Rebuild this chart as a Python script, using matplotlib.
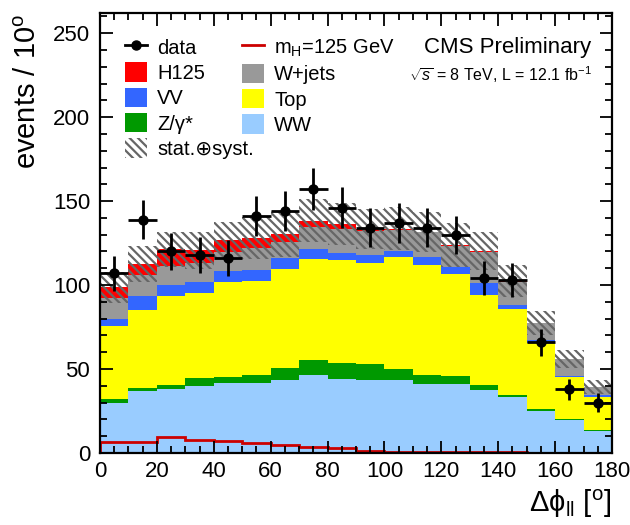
import numpy as np
import matplotlib
matplotlib.use("Agg")
import matplotlib.pyplot as plt
from matplotlib.patches import Patch
from matplotlib.lines import Line2D
from matplotlib.ticker import MultipleLocator

plt.rcParams["font.family"] = ["Liberation Sans", "DejaVu Sans"]
plt.rcParams["mathtext.fontset"] = "custom"
plt.rcParams["mathtext.rm"] = "Liberation Sans"
plt.rcParams["mathtext.it"] = "Liberation Sans:italic"
plt.rcParams["mathtext.bf"] = "Liberation Sans:bold"
plt.rcParams["hatch.linewidth"] = 1.6
plt.rcParams["hatch.color"] = "#666666"

# delta phi_ll bins, 10 degrees each
edges = np.arange(0, 181, 10)

# background and signal yields per bin (stack order: bottom -> top)
ww = [29.6, 37.0, 38.3, 39.8, 41.4, 41.5, 43.2, 46.4, 44.0, 43.6, 43.6, 41.0, 41.0, 37.3, 33.5, 25.2, 19.4, 13.0]
zgamma = [2.4, 1.8, 1.9, 4.8, 3.7, 5.0, 7.2, 9.0, 9.6, 9.2, 6.5, 5.6, 4.6, 3.0, 1.0, 0.9, 0.6, 0.6]
top = [43.4, 46.2, 53.3, 50.7, 56.9, 56.0, 58.9, 60.1, 61.3, 60.3, 66.4, 65.3, 60.8, 53.7, 51.3, 39.2, 25.0, 19.9]
vv = [4.6, 8.2, 6.8, 6.6, 6.5, 6.5, 6.7, 5.7, 4.0, 5.0, 3.9, 5.0, 4.3, 7.0, 2.2, 1.7, 0.6, 0.8]
wjets = [12.2, 12.8, 11.3, 11.1, 11.3, 13.2, 9.8, 13.6, 14.2, 13.9, 12.6, 14.4, 12.7, 18.8, 14.0, 10.4, 10.2, 5.0]
h125 = [6.4, 6.6, 9.7, 7.6, 7.3, 6.0, 4.6, 3.6, 3.0, 1.2, 0.6, 0.5, 0.5, 0.4, 0.3, 0.2, 0.2, 0.1]

# stat+syst uncertainty on the total prediction
bkg_err = [9.4, 10.5, 10.5, 11.0, 10.7, 12.5, 13.5, 13.0, 12.5, 12.0, 13.0, 12.0, 13.0, 11.5, 9.7, 7.1, 5.3, 4.0]

# observed events
data = [107, 139, 120, 118, 116, 141, 144, 157, 146, 134, 137, 134, 130, 104, 103, 66, 38, 30]
data_err = [10.3, 11.8, 11.0, 10.9, 10.8, 11.9, 12.0, 12.5, 12.1, 11.6, 11.7, 11.6, 11.4, 10.2, 10.1, 8.1, 6.2, 5.5]

colors = {
    "WW": "#99ccff",
    "Z": "#009900",
    "Top": "#ffff00",
    "VV": "#3366ff",
    "Wjets": "#999999",
    "H125": "#ff0000",
}

fig = plt.figure(figsize=(6.3, 5.25), dpi=100)
ax = fig.add_axes([100 / 630, 1 - 453 / 525, 512 / 630, 440 / 525])

left = edges[:-1]
width = np.diff(edges)
bottom = np.zeros(len(left))
for vals, key in [(ww, "WW"), (zgamma, "Z"), (top, "Top"), (vv, "VV"),
                  (wjets, "Wjets"), (h125, "H125")]:
    vals = np.asarray(vals)
    ax.bar(left, vals, width=width, bottom=bottom, align="edge",
           color=colors[key], linewidth=0)
    bottom = bottom + vals
total = bottom

# uncertainty band
err = np.asarray(bkg_err)
ax.bar(left, 2 * err, width=width, bottom=total - err, align="edge",
       facecolor="none", edgecolor="#666666", linewidth=0, hatch="\\\\\\\\")

# signal shape drawn on its own
ax.stairs(h125, edges, color="#cc0000", linewidth=2)

centers = left + width / 2
ax.errorbar(centers, data, xerr=width / 2, yerr=data_err, fmt="o", color="black",
            markersize=6.5, elinewidth=2, capsize=0)

ax.set_xlim(0, 180)
ax.set_ylim(0, 262)
ax.xaxis.set_major_locator(MultipleLocator(20))
ax.xaxis.set_minor_locator(MultipleLocator(5))
ax.yaxis.set_major_locator(MultipleLocator(50))
ax.yaxis.set_minor_locator(MultipleLocator(10))
ax.tick_params(which="both", direction="in", top=True, right=True, width=1.3,
               labelsize=16)
ax.tick_params(which="major", length=9)
ax.tick_params(which="minor", length=5)
ax.tick_params(axis="x", pad=6)
ax.tick_params(axis="y", pad=7)
for sp in ax.spines.values():
    sp.set_linewidth(1.6)
ax.set_axisbelow(False)

fig.text(28 / 630, 1 - 14 / 525, "events / 10$^{\\mathrm{o}}$", rotation=90,
         ha="center", va="top", fontsize=21)
fig.text(612 / 630, 1 - 520 / 525, "\u0394\u03d5$_{\\mathrm{ll}}$ [$^{\\mathrm{o}}$]",
         ha="right", va="bottom", fontsize=21)

# legend, two columns
col1 = [
    (Line2D([], [], color="black", marker="o", markersize=6.5, linewidth=2), "data"),
    (Patch(facecolor=colors["H125"], linewidth=0), "H125"),
    (Patch(facecolor=colors["VV"], linewidth=0), "VV"),
    (Patch(facecolor=colors["Z"], linewidth=0), "Z/\u03b3*"),
    (Patch(facecolor="white", edgecolor="#666666", linewidth=0, hatch="\\\\\\\\"),
     "stat.\u2295syst."),
]
col2 = [
    (Line2D([], [], color="#cc0000", linewidth=2), "m$_{\\mathrm{H}}$=125 GeV"),
    (Patch(facecolor=colors["Wjets"], linewidth=0), "W+jets"),
    (Patch(facecolor=colors["Top"], linewidth=0), "Top"),
    (Patch(facecolor=colors["WW"], linewidth=0), "WW"),
]
leg_kw = dict(frameon=False, fontsize=14.5, handlelength=1.1, handleheight=1.1,
              labelspacing=0.24, handletextpad=0.5, borderaxespad=0, borderpad=0)
leg1 = ax.legend([h for h, _ in col1], [l for _, l in col1], loc="upper left",
                 bbox_to_anchor=(25 / 512, 1 - 24 / 440), **leg_kw)
ax.add_artist(leg1)
ax.legend([h for h, _ in col2], [l for _, l in col2], loc="upper left",
          bbox_to_anchor=(142 / 512, 1 - 24 / 440), **leg_kw)

ax.text(0.96, 1 - 35 / 440, "CMS Preliminary", transform=ax.transAxes,
        ha="right", va="center", fontsize=16)
ax.text(0.96, 1 - 62 / 440, "$\\sqrt{s}$ = 8 TeV, L = 12.1 fb$^{-1}$",
        transform=ax.transAxes, ha="right", va="center", fontsize=11.5)

fig.savefig("out.png", dpi=100)
